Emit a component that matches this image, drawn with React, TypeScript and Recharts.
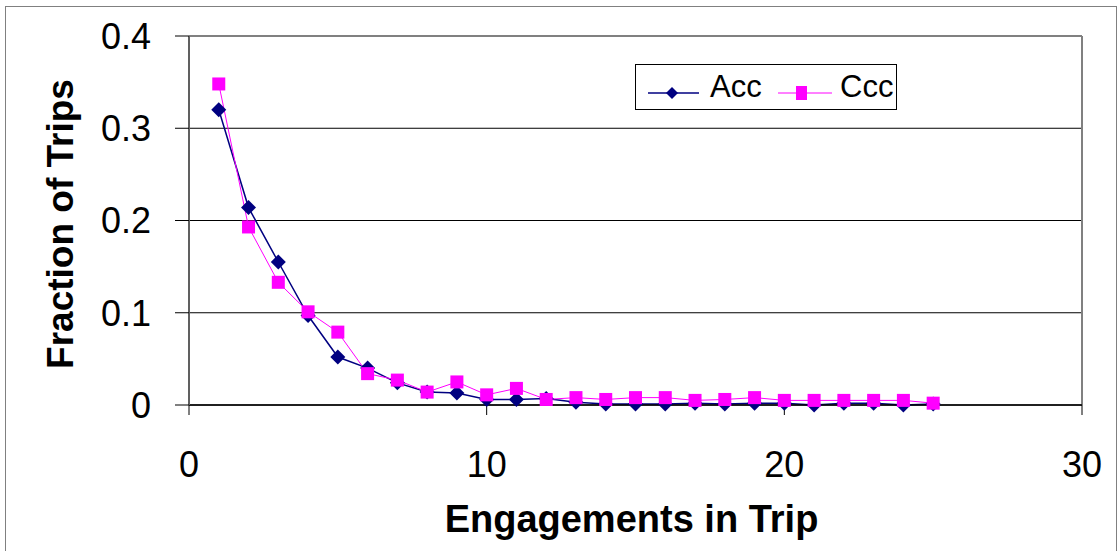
import { LineChart, Line, XAxis, YAxis, CartesianGrid, ReferenceLine } from 'recharts';

const engagements = [1, 2, 3, 4, 5, 6, 7, 8, 9, 10, 11, 12, 13, 14, 15, 16, 17, 18, 19, 20, 21, 22, 23, 24, 25];
const accValues = [0.32, 0.214, 0.155, 0.097, 0.052, 0.04, 0.024, 0.014, 0.013, 0.006, 0.006, 0.007, 0.003, 0.001, 0.001, 0.001, 0.002, 0.001, 0.002, 0.002, 0.0, 0.002, 0.002, 0.0, 0.001];
const cccValues = [0.348, 0.193, 0.133, 0.101, 0.079, 0.034, 0.027, 0.014, 0.025, 0.011, 0.018, 0.006, 0.008, 0.006, 0.008, 0.008, 0.005, 0.006, 0.008, 0.005, 0.005, 0.005, 0.005, 0.005, 0.002];
const xTicks = [0, 10, 20, 30];
const yTicks = [0, 0.1, 0.2, 0.3, 0.4];

const data = engagements.map((n, i) => ({ n, acc: accValues[i], ccc: cccValues[i] }));

const FONT = '"Liberation Sans", Arial, sans-serif';
const NAVY = '#000080';
const MAGENTA = '#FF00FF';

const Diamond = (props: { cx?: number; cy?: number }) => {
  const { cx, cy } = props;
  if (cx === undefined || cy === undefined) return null;
  const r = 7.5;
  return <path d={`M${cx},${cy - r} L${cx + r},${cy} L${cx},${cy + r} L${cx - r},${cy} Z`} fill={NAVY} />;
};

const Square = (props: { cx?: number; cy?: number }) => {
  const { cx, cy } = props;
  if (cx === undefined || cy === undefined) return null;
  const s = 6.5;
  return <rect x={cx - s} y={cy - s} width={s * 2} height={s * 2} fill={MAGENTA} />;
};

// axis titles placed from the axis viewBox
const XTitle = (props: { viewBox?: { x: number; y: number; width: number } }) => {
  const vb = props.viewBox;
  if (!vb) return null;
  return (
    <text x={vb.x + vb.width / 2 - 4} y={vb.y + 127} textAnchor="middle" fontSize={38} fontWeight={700} fill="#000" fontFamily={FONT}>
      Engagements in Trip
    </text>
  );
};

const YTitle = (props: { viewBox?: { x: number; y: number; height: number } }) => {
  const vb = props.viewBox;
  if (!vb) return null;
  const cx = 60;
  const cy = 224;
  return (
    <text
      x={cx}
      y={cy}
      transform={`rotate(-90, ${cx}, ${cy})`}
      textAnchor="middle"
      dominantBaseline="central"
      fontSize={37}
      fontWeight={700}
      fill="#000"
      fontFamily={FONT}
    >
      Fraction of Trips
    </text>
  );
};

const LegendBox = () => (
  <div
    style={{
      position: 'absolute',
      left: 635,
      top: 64,
      width: 260,
      height: 44,
      border: '1px solid #000',
      background: '#fff',
      display: 'flex',
      alignItems: 'center',
      fontFamily: FONT,
      fontSize: 31,
      color: '#000',
    }}
  >
    <svg width={70} height={44} style={{ marginLeft: 4 }}>
      <line x1={8} y1={28} x2={59} y2={28} stroke={NAVY} strokeWidth={1.5} />
      <path d="M32,22 L38,28 L32,34 L26,28 Z" fill={NAVY} />
    </svg>
    <span style={{ width: 64 }}>Acc</span>
    <svg width={66} height={44}>
      <line x1={4} y1={28} x2={58} y2={28} stroke={MAGENTA} strokeWidth={1} />
      <rect x={22} y={21} width={11} height={14} fill={MAGENTA} />
    </svg>
    <span>Ccc</span>
  </div>
);

export default function App() {
  return (
    <div style={{ position: 'absolute', top: 0, left: 0, width: 1118, height: 551, background: '#fff', overflow: 'hidden' }}>
      <div style={{ position: 'absolute', left: 5, top: 6, width: 1110, height: 560, border: '1px solid #808080' }} />
      <LineChart
        width={1118}
        height={551}
        data={data}
        margin={{ top: 36, right: 36, left: 109, bottom: 46 }}
        style={{ position: 'absolute', top: 0, left: 0 }}
      >
        <CartesianGrid vertical={false} stroke="#000" strokeWidth={1} />
        <XAxis
          dataKey="n"
          type="number"
          domain={[0, 30]}
          ticks={xTicks}
          height={100}
          tickSize={10}
          tickMargin={36}
          tick={{ fontSize: 36, fill: '#000', fontFamily: FONT }}
          axisLine={{ stroke: '#000', strokeWidth: 1.5 }}
          tickLine={{ stroke: '#000' }}
          label={<XTitle />}
        />
        <YAxis
          type="number"
          domain={[0, 0.4]}
          ticks={yTicks}
          width={80}
          tickSize={14}
          tickMargin={24}
          tick={{ fontSize: 36, fill: '#000', fontFamily: FONT }}
          axisLine={{ stroke: '#606060', strokeWidth: 2 }}
          tickLine={{ stroke: '#000' }}
          label={<YTitle />}
        />
        <ReferenceLine y={0.4} stroke="#808080" strokeWidth={2} />
        <ReferenceLine x={30} stroke="#808080" strokeWidth={2} />
        <Line
          dataKey="acc"
          name="Acc"
          stroke={NAVY}
          strokeWidth={1.5}
          dot={<Diamond />}
          activeDot={false}
          isAnimationActive={false}
        />
        <Line
          dataKey="ccc"
          name="Ccc"
          stroke={MAGENTA}
          strokeWidth={1}
          dot={<Square />}
          activeDot={false}
          isAnimationActive={false}
        />
      </LineChart>
      <LegendBox />
    </div>
  );
}
